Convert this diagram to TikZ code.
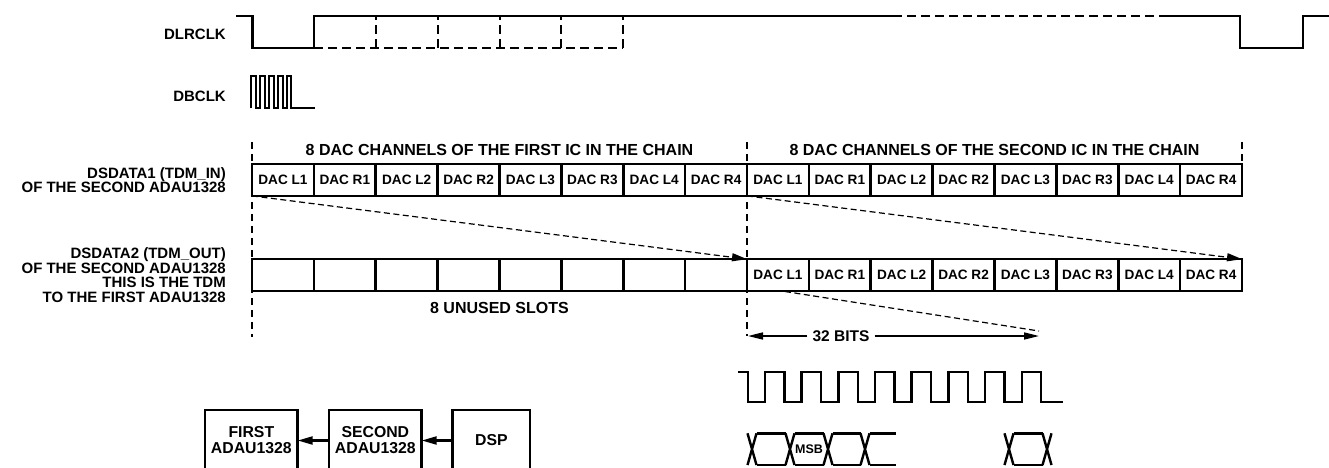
\documentclass[tikz,border=0pt]{standalone}
\usepackage{fontspec}
\setmainfont{Liberation Sans}
\usetikzlibrary{arrows.meta}
\begin{document}
\begin{tikzpicture}[x=1pt,y=-1pt,
  wave/.style={line width=2.4pt, line join=miter},
  wdash/.style={line width=2.4pt, dash pattern=on 9pt off 5pt},
  guide/.style={line width=1.1pt, dash pattern=on 7pt off 5pt},
  diag/.style={line width=1.2pt, dash pattern=on 6pt off 3.5pt},
  tip/.style={-{Triangle[length=15pt,width=8pt]}},
  slot/.style={draw, line width=2.6pt, minimum width=61.875pt, minimum height=31.7pt, inner sep=0pt, outer sep=0pt, font=\fontsize{13.6}{13.6}\selectfont\bfseries},
  lbl/.style={anchor=east, align=right, inner sep=0pt, font=\fontsize{15}{14.5}\selectfont\bfseries},
  hdr/.style={inner sep=0pt, font=\fontsize{16}{16}\selectfont\bfseries},
  blk/.style={draw, line width=2.6pt, minimum height=61pt, inner sep=0pt, outer sep=0pt, align=center, font=\fontsize{15.8}{16}\selectfont\bfseries}
]
\useasboundingbox (0,0) rectangle (1329,467);

% ---- left labels
\node[lbl] (lrclk) at (226,34.5) {DLRCLK};
\node[lbl] (bclk) at (226,96.5) {DBCLK};
\node[lbl] (din) at (226,180) {DSDATA1 (TDM\_IN)\\OF THE SECOND ADAU1328};
\node[lbl] (dout) at (226,275) {DSDATA2 (TDM\_OUT)\\OF THE SECOND ADAU1328\\THIS IS THE TDM\\TO THE FIRST ADAU1328};

% ---- DLRCLK
\draw[wave] (236,15.7) -- (252.3,15.7) -- (252.3,47.7) -- (314,47.7) -- (314,15.7) -- (893,15.7);
\draw[wdash] (893,15.7) -- (1167,15.7);
\draw[wave] (1167,15.7) -- (1240,15.7) -- (1240,48) -- (1302.7,48) -- (1302.7,15.7) -- (1329,15.7);
\draw[wdash] (314,47.7) -- (623,47.7);
\foreach \xx in {376,438,500,561,623} \draw[wdash] (\xx,47.7) -- (\xx,15.7);

% ---- DBCLK
\draw[line width=1.9pt] (251,108) -- (251,76) -- (256,76) -- (256,108) -- (260,108) -- (260,76) -- (265,76) -- (265,108) -- (269,108) -- (269,76) -- (274,76) -- (274,108) -- (278,108) -- (278,76) -- (283,76) -- (283,108) -- (287,108) -- (287,76) -- (291,76) -- (291,108) -- (315,108);

% ---- guides
\draw[guide] (252,142) -- (252,337);
\draw[guide] (747,142) -- (747,336);
\draw[guide] (1242,142) -- (1242,164);

% ---- headers
\node[hdr] (h1) at (499.5,150) {8 DAC CHANNELS OF THE FIRST IC IN THE CHAIN};
\node[hdr] (h2) at (994.5,150) {8 DAC CHANNELS OF THE SECOND IC IN THE CHAIN};

% ---- slots
\foreach \t [count=\i] in {DAC L1,DAC R1,DAC L2,DAC R2,DAC L3,DAC R3,DAC L4,DAC R4,DAC L1,DAC R1,DAC L2,DAC R2,DAC L3,DAC R3,DAC L4,DAC R4}
  \node[slot] (a\i) at ({252+(\i-0.5)*61.875},180) {\t};
\foreach \i in {1,...,8}
  \node[slot] (b\i) at ({252+(\i-0.5)*61.875},275) {};
\foreach \t [count=\j from 9] in {DAC L1,DAC R1,DAC L2,DAC R2,DAC L3,DAC R3,DAC L4,DAC R4}
  \node[slot] (b\j) at ({252+(\j-0.5)*61.875},275) {\t};

\node[hdr] (unused) at (499.5,307.5) {8 UNUSED SLOTS};

% ---- diagonals
\draw[diag,tip] (a1.south west) -- (b9.north west);
\draw[diag,tip] (a9.south west) -- (b16.north east);
\coordinate (d3a) at (785,291.5);
\coordinate (d3b) at (1039,331);
\draw[diag] (d3a) -- (d3b);

% ---- 32 bits
\coordinate (bl) at (748,336);
\coordinate (br) at (1039,336);
\node[hdr, inner xsep=5pt, font=\fontsize{15.5}{16}\selectfont\bfseries] (bits) at (841,336) {32 BITS};
\draw[line width=1.6pt, -{Triangle[length=15pt,width=7pt]}] (bits.west) -- (bl);
\draw[line width=1.6pt, -{Triangle[length=15pt,width=7pt]}] (bits.east) -- (br);

% ---- bit clock
\draw[wave] (738,372) foreach \k in {0,...,7} { -- ({747.7+\k*36.67},372) -- ({747.7+\k*36.67},402) -- ({765+\k*36.67},402) -- ({765+\k*36.67},372) } -- (1041,372) -- (1041,402) -- (1063,402);

% ---- data
\def\ty{433.3}\def\by{465}\def\hw{4.5}
\foreach \c in {752,790,828,865,1009,1047}
  \draw[wave] ({\c-\hw},\ty) -- ({\c+\hw},\by) ({\c-\hw},\by) -- ({\c+\hw},\ty);
\foreach \c/\d in {752/790,790/828,828/865,1009/1047}
  \draw[wave] ({\c+\hw},\ty) -- ({\d-\hw},\ty) ({\c+\hw},\by) -- ({\d-\hw},\by);
\draw[wave] ({865+\hw},\ty) -- (895.5,\ty) ({865+\hw},\by) -- (895.5,\by);
\node[inner sep=0pt, font=\fontsize{12.5}{12.5}\selectfont\bfseries] (msb) at (809,449) {MSB};

% ---- blocks
\node[blk, minimum width=92.7pt] (first) at (251.35,440.5) {FIRST\\ADAU1328};
\node[blk, minimum width=92.7pt] (second) at (375.35,440.5) {SECOND\\ADAU1328};
\node[blk, minimum width=77.3pt] (dsp) at (491.35,440.5) {DSP};
\draw[line width=2.2pt, tip] (second.west) -- (first.east);
\draw[line width=2.2pt, tip] (dsp.west) -- (second.east);
\end{tikzpicture}
\end{document}
